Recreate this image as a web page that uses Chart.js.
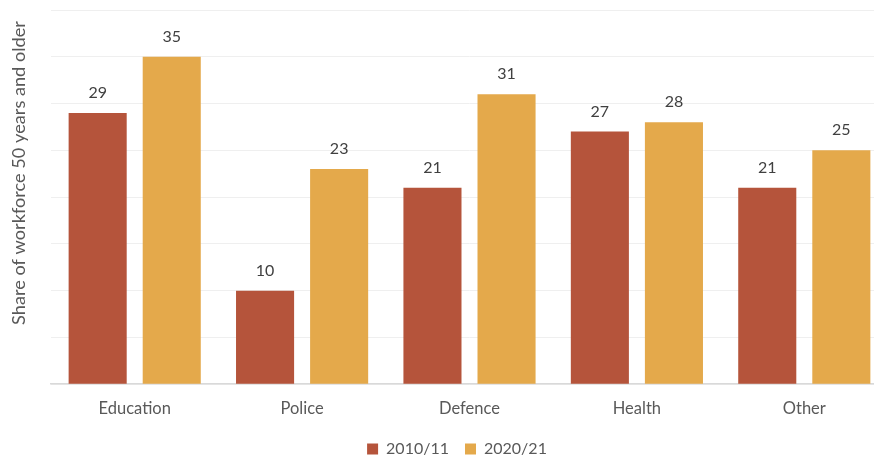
<!DOCTYPE html>
<html>
<head>
<meta charset="utf-8">
<script src="https://cdn.jsdelivr.net/npm/chart.js@4.4.0/dist/chart.umd.min.js"></script>
<style>
  html, body { margin: 0; padding: 0; background: #fff; }
  #wrap { width: 874px; height: 457px; overflow: hidden; }
  #box { width: 888px; height: 457px; }
</style>
</head>
<body>
<div id="wrap"><div id="box"><canvas id="grafico"></canvas></div></div>
<script>
// Sectores y participación de trabajadores de 50 años o más
const sectores = ["Education", "Police", "Defence", "Health", "Other"];
const serie2010 = [29, 10, 21, 27, 21];
const serie2020 = [35, 23, 31, 28, 25];
const etiquetasSeries = ["2010/11", "2020/21"];
const tituloEjeY = "Share of workforce 50 years and older";

const FUENTE = "Lato, 'Open Sans', sans-serif";

// Etiquetas de valor sobre cada barra
const valoresPlugin = {
    id: "valores",
    afterDatasetsDraw(chart) {
        const ctx = chart.ctx;
        ctx.save();
        ctx.font = "16px " + FUENTE;
        ctx.fillStyle = "#404040";
        ctx.textAlign = "center";
        ctx.textBaseline = "middle";
        chart.data.datasets.forEach((ds, i) => {
            chart.getDatasetMeta(i).data.forEach((bar, j) => {
                ctx.fillText(ds.data[j], bar.x, bar.y - 20);
            });
        });
        ctx.restore();
    }
};

// Título del eje Y (rotado)
const tituloYPlugin = {
    id: "tituloY",
    afterDraw(chart) {
        const ctx = chart.ctx;
        ctx.save();
        ctx.translate(19, 173);
        ctx.rotate(-Math.PI / 2);
        ctx.font = "18.2px " + FUENTE;
        ctx.fillStyle = "#595959";
        ctx.textAlign = "center";
        ctx.textBaseline = "middle";
        ctx.fillText(tituloEjeY, 0, 0);
        ctx.restore();
    }
};

const ctx = document.getElementById("grafico").getContext("2d");
new Chart(ctx, {
    type: "bar",
    data: {
        labels: sectores,
        datasets: [
            { label: etiquetasSeries[0], data: serie2010, backgroundColor: "#b5543b" },
            { label: etiquetasSeries[1], data: serie2020, backgroundColor: "#e4a94b" }
        ]
    },
    options: {
        responsive: true,
        maintainAspectRatio: false,
        animation: false,
        categoryPercentage: 0.885,
        barPercentage: 0.784,
        layout: { padding: { left: 26, right: 0, top: 10, bottom: -10 } },
        plugins: {
            legend: {
                position: "bottom",
                labels: {
                    boxWidth: 11,
                    boxHeight: 11,
                    padding: 16,
                    color: "#595959",
                    font: { family: FUENTE, size: 16 }
                }
            },
            tooltip: { enabled: false }
        },
        scales: {
            x: {
                grid: { display: false },
                border: { color: "#d9d9d9", width: 1.5 },
                ticks: { color: "#595959", font: { family: FUENTE, size: 16.5 }, padding: 6.5 }
            },
            y: {
                min: 0,
                max: 40,
                ticks: { display: false, stepSize: 5 },
                grid: { color: "#efefef", drawTicks: false },
                border: { display: false },
                afterFit(scale) { scale.width = 25; }
            }
        }
    },
    plugins: [valoresPlugin, tituloYPlugin]
});
</script>
</body>
</html>
